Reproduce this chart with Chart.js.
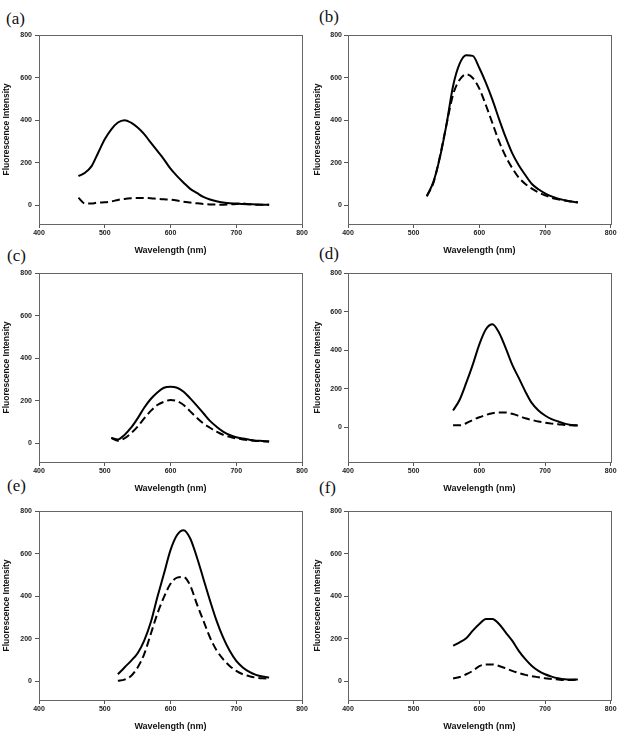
<!DOCTYPE html>
<html>
<head>
<meta charset="utf-8">
<script src="https://cdn.jsdelivr.net/npm/chart.js@4.4.0/dist/chart.umd.min.js"></script>
<style>
  body { margin: 0; background: #fff; width: 627px; height: 736px; overflow: hidden; position: relative; }
  canvas { position: absolute; }
  .tag { position: absolute; font-family: "Liberation Serif", "DejaVu Serif", serif; font-size: 17px; line-height: 1; color: #111; }
</style>
</head>
<body>
<div class="tag" style="left:6px;top:10px">(a)</div>
<div class="tag" style="left:319px;top:8px">(b)</div>
<div class="tag" style="left:7px;top:247px">(c)</div>
<div class="tag" style="left:319px;top:245px">(d)</div>
<div class="tag" style="left:7px;top:477px">(e)</div>
<div class="tag" style="left:319px;top:479px">(f)</div>

<canvas id="pa" width="313" height="258" style="left:0;top:0"></canvas>
<canvas id="pb" width="313" height="258" style="left:313px;top:0"></canvas>
<canvas id="pc" width="313" height="258" style="left:0;top:238px"></canvas>
<canvas id="pd" width="313" height="258" style="left:313px;top:238px"></canvas>
<canvas id="pe" width="313" height="258" style="left:0;top:476px"></canvas>
<canvas id="pf" width="313" height="258" style="left:313px;top:476px"></canvas>

<script>
var xTicks = [400, 500, 600, 700, 800];
var yTicks = [0, 200, 400, 600, 800];

var waveA = [460,470,480,490,500,510,520,530,540,550,560,570,580,590,600,610,620,630,640,650,660,670,680,690,700,710,720,730,740,750];
var solidA = [137,153,184,247,310,357,389,400,388,365,334,294,255,216,172,137,106,77,58,39,27,19,13,9,8,6,5,4,3,3];
var dashedA = [35,8,8,13,14,18,25,30,33,34,34,33,30,28,26,22,17,13,9,6,4,3,3,4,6,8,5,3,3,2];

var waveB = [520,530,540,550,560,570,580,590,600,610,620,630,640,650,660,670,680,690,700,710,720,730,740,750];
var solidB = [43,110,225,380,560,665,705,702,645,575,495,405,320,245,188,142,100,75,56,42,31,24,18,13];
var dashedB = [42,105,230,380,520,590,615,598,548,470,385,300,230,175,130,100,78,60,47,35,28,22,18,14];

var waveC = [510,520,530,540,550,560,570,580,590,600,610,620,630,640,650,660,670,680,690,700,710,720,730,740,750];
var solidC = [25,18,39,73,117,167,208,239,261,266,261,242,211,177,141,105,78,55,39,28,22,17,12,11,8];
var dashedC = [25,12,23,47,78,117,152,180,195,203,198,180,150,120,93,73,55,40,30,23,18,14,11,10,8];

var waveD = [560,570,580,590,600,610,620,630,640,650,660,670,680,690,700,710,720,730,740,750];
var solidD = [87,143,230,325,430,508,534,490,412,325,256,186,125,87,61,42,30,19,12,9];
var dashedD = [10,10,21,38,52,64,73,77,77,70,59,47,38,30,24,19,16,12,10,10];

var waveE = [520,530,540,550,560,570,580,590,600,610,620,630,640,650,660,670,680,690,700,710,720,730,740,750];
var solidE = [33,65,96,132,191,277,395,505,616,687,710,671,584,482,380,285,206,143,96,65,44,30,22,18];
var dashedE = [2,8,25,65,128,222,317,395,458,487,490,450,364,285,206,146,104,72,49,33,24,17,14,13];

var waveF = [560,570,580,590,600,610,620,630,640,650,660,670,680,690,700,710,720,730,740,750];
var solidF = [167,183,202,238,269,293,293,269,230,191,143,104,72,49,33,22,14,9,8,8];
var dashedF = [13,20,33,49,71,79,79,72,61,49,39,30,24,19,14,11,8,6,6,8];

var frame = {
    id: 'frame',
    afterDraw: function (chart) {
        var a = chart.chartArea, ctx = chart.ctx;
        ctx.save();
        ctx.strokeStyle = '#666';
        ctx.lineWidth = 1;
        ctx.strokeRect(Math.round(a.left) + 0.5, Math.round(a.top) + 0.5,
                       Math.round(a.right - a.left), Math.round(a.bottom - a.top));
        ctx.restore();
    }
};

function pts(xs, ys) {
    return xs.map(function (x, i) { return { x: x, y: ys[i] }; });
}

function makeChart(id, wave, solid, dashed, yMin, right) {
    var axisW = right ? 35 : 39;
    new Chart(document.getElementById(id), {
        type: 'line',
        data: {
            datasets: [
                { data: pts(wave, solid), borderColor: '#000', borderWidth: 2, pointRadius: 0,
                  cubicInterpolationMode: 'monotone' },
                { data: pts(wave, dashed), borderColor: '#000', borderWidth: 2, pointRadius: 0,
                  borderDash: [8, 4], cubicInterpolationMode: 'monotone' }
            ]
        },
        options: {
            responsive: false,
            animation: false,
            layout: { padding: { left: 0, right: right ? 15.3 : 11, top: 35, bottom: 0 } },
            plugins: { legend: { display: false }, tooltip: { enabled: false } },
            scales: {
                x: {
                    type: 'linear', min: 400, max: 800,
                    afterBuildTicks: function (s) { s.ticks = xTicks.map(function (v) { return { value: v }; }); },
                    afterFit: function (s) { s.height = 34; },
                    border: { display: false },
                    grid: { drawOnChartArea: false, drawTicks: true, tickLength: 4, color: '#555' },
                    ticks: { padding: 1, color: '#222', maxRotation: 0,
                             font: { family: 'Liberation Sans', size: 7, weight: 'bold' } },
                    title: { display: true, text: 'Wavelength (nm)', color: '#111',
                             padding: { top: 0, bottom: 1.6 },
                             font: { family: 'Liberation Sans', size: 9, weight: 'bold' } }
                },
                y: {
                    min: yMin, max: 800,
                    afterBuildTicks: function (s) { s.ticks = yTicks.map(function (v) { return { value: v }; }); },
                    afterFit: function (s) { s.width = axisW; },
                    border: { display: false },
                    grid: { drawOnChartArea: false, drawTicks: true, tickLength: 4, color: '#555' },
                    ticks: { padding: right ? 2 : 3, color: '#222',
                             font: { family: 'Liberation Sans', size: 7, weight: 'bold' } },
                    title: { display: true, text: 'Fluorescence Intensity', color: '#111',
                             padding: { top: right ? 0 : 2, bottom: 0 },
                             font: { family: 'Liberation Sans', size: 8.5, weight: 'bold' } }
                }
            }
        },
        plugins: [frame]
    });
}

makeChart('pa', waveA, solidA, dashedA, -88, false);
makeChart('pb', waveB, solidB, dashedB, -88, true);
makeChart('pc', waveC, solidC, dashedC, -88, false);
makeChart('pd', waveD, solidD, dashedD, -180, true);
makeChart('pe', waveE, solidE, dashedE, -88, false);
makeChart('pf', waveF, solidF, dashedF, -88, true);
</script>
</body>
</html>
